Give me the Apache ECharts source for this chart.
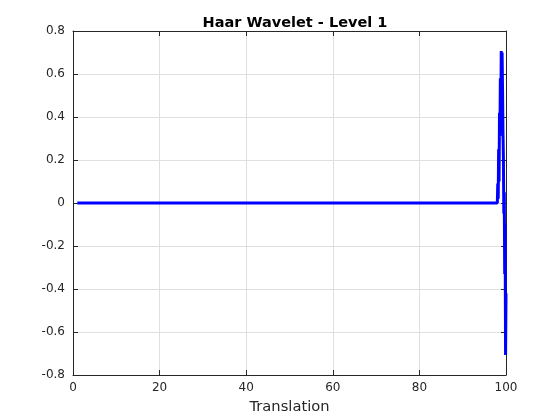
<!DOCTYPE html>
<html>
<head>
<meta charset="utf-8">
<script src="https://cdn.jsdelivr.net/npm/echarts@6/dist/echarts.min.js"></script>
<style>html,body{margin:0;padding:0;background:#fff}#c{width:560px;height:420px}</style>
</head>
<body>
<div id="c"></div>
<script>
// Translation positions and Haar wavelet coefficients (level 1)
const flatX = [1, 10, 20, 30, 40, 50, 60, 70, 80, 90, 98];
const flatY = [0, 0, 0, 0, 0, 0, 0, 0, 0, 0, 0];
const spikeX = [98.1, 98.2, 98.3, 98.4, 98.5, 98.6, 98.7, 98.8, 98.9, 99.0, 99.1, 99.2, 99.3, 99.4, 99.5, 99.6, 99.7, 99.8, 99.9, 100.0];
const spikeY = [0.09, 0.02, 0.25, 0.10, 0.42, 0.31, 0.58, 0.35, 0.707, 0.45, 0.70, 0.53, 0.33, 0.21, -0.05, 0.05, -0.33, -0.10, -0.707, -0.42];
const xTicks = [0, 20, 40, 60, 80, 100];
const yTicks = [-0.8, -0.6, -0.4, -0.2, 0, 0.2, 0.4, 0.6, 0.8];

const xs = flatX.concat(spikeX);
const ys = flatY.concat(spikeY);
const data = xs.map((x, i) => [x, ys[i]]);

const font = 'DejaVu Sans';
const axisColor = '#262626';
const chart = echarts.init(document.getElementById('c'), null, {renderer: 'canvas'});
const baseX = {
  type: 'value', min: xTicks[0], max: xTicks[xTicks.length - 1], interval: 20,
  axisLine: {show: true, onZero: false, lineStyle: {color: axisColor, width: 1}},
  axisTick: {show: true, inside: true, length: 5, lineStyle: {color: axisColor}},
  splitLine: {show: false}
};
const baseY = {
  type: 'value', min: yTicks[0], max: yTicks[yTicks.length - 1], interval: 0.2,
  axisLine: {show: true, onZero: false, lineStyle: {color: axisColor, width: 1}},
  axisTick: {show: true, inside: true, length: 5, lineStyle: {color: axisColor}},
  splitLine: {show: false}
};
chart.setOption({
  animation: false,
  backgroundColor: '#fff',
  title: {
    text: 'Haar Wavelet - Level 1', left: 290, top: 11, textAlign: 'center',
    textStyle: {fontFamily: font, fontSize: 14.5, fontWeight: 'bold', color: '#000'}
  },
  grid: {left: 73, right: 54, top: 31, bottom: 45, containLabel: false},
  xAxis: [
    Object.assign({}, baseX, {
      position: 'bottom',
      name: 'Translation', nameLocation: 'middle', nameGap: 25,
      nameTextStyle: {fontFamily: font, fontSize: 14.7, color: axisColor},
      axisLabel: {fontFamily: font, fontSize: 12, color: axisColor, margin: 7},
      splitLine: {show: true, lineStyle: {color: '#dfdfdf', width: 1}}
    }),
    Object.assign({}, baseX, {position: 'top', axisLabel: {show: false}})
  ],
  yAxis: [
    Object.assign({}, baseY, {
      position: 'left',
      axisLabel: {fontFamily: font, fontSize: 12, color: axisColor, margin: 8,
        formatter: v => String(Math.round(v * 10) / 10)},
      splitLine: {show: true, lineStyle: {color: '#dfdfdf', width: 1}}
    }),
    Object.assign({}, baseY, {position: 'right', axisLabel: {show: false}})
  ],
  series: [{
    type: 'line', data: data, xAxisIndex: 0, yAxisIndex: 0,
    showSymbol: false, symbol: 'none',
    lineStyle: {color: '#0000ff', width: 3}, clip: false
  }]
});
</script>
</body>
</html>
